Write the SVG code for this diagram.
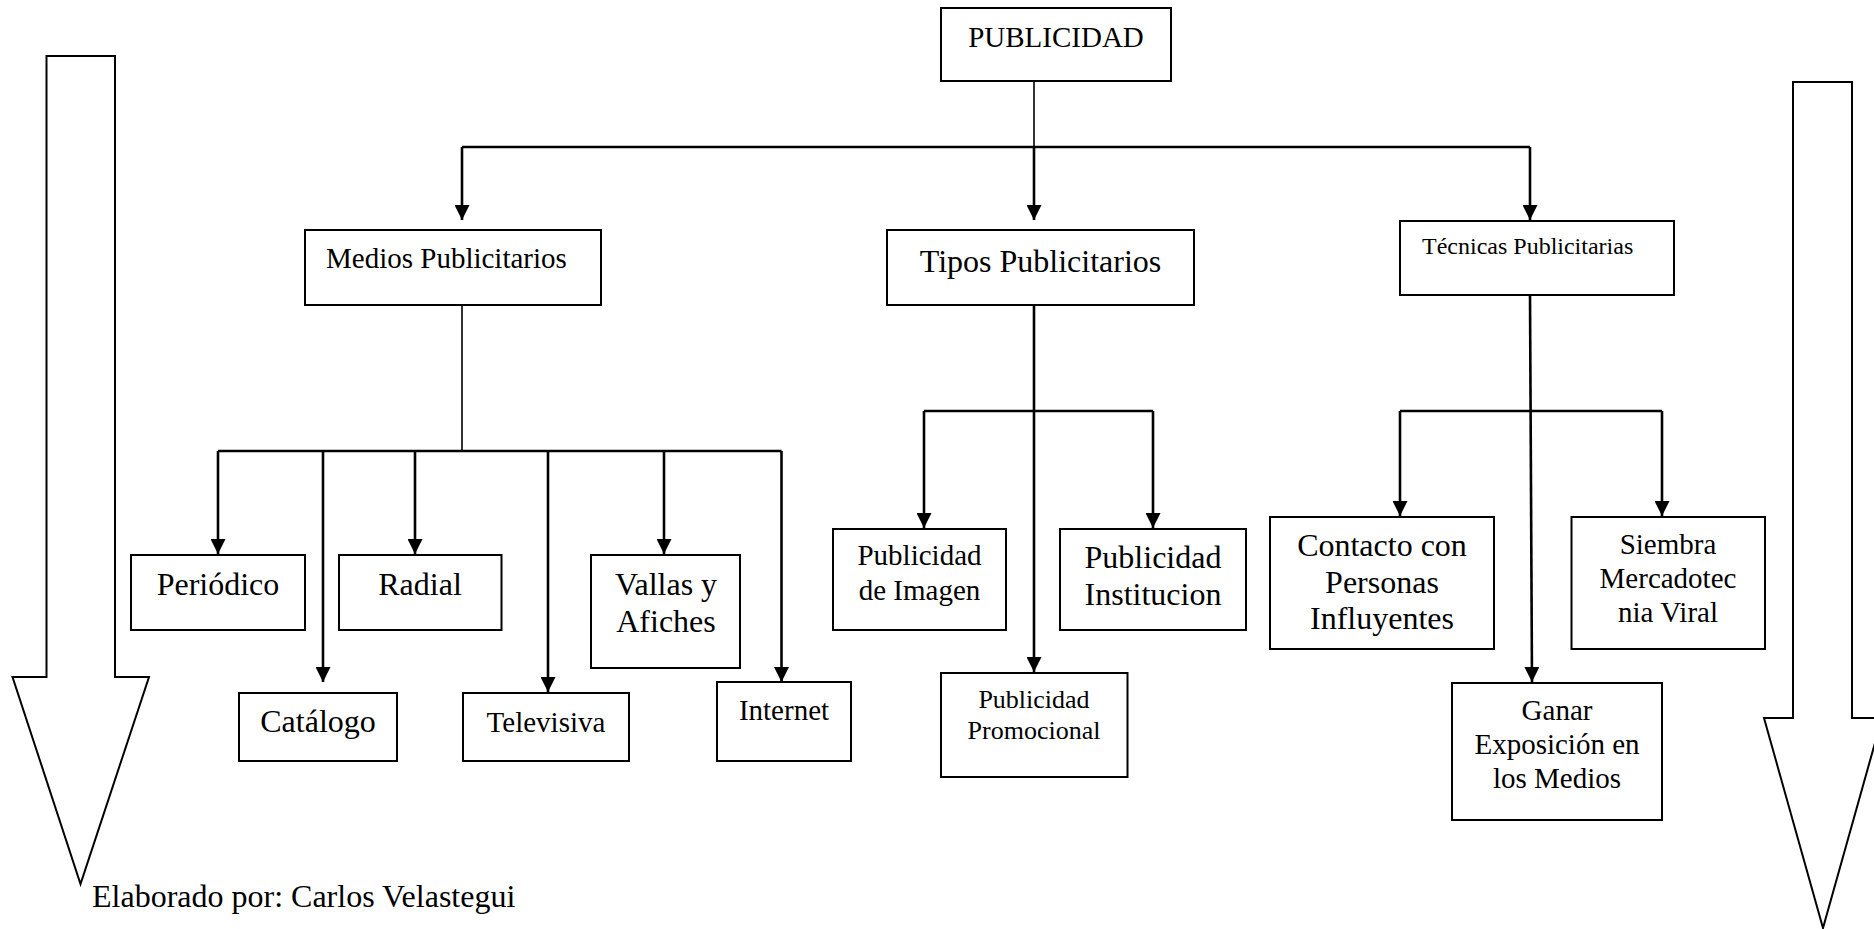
<svg xmlns="http://www.w3.org/2000/svg" width="1874" height="929" viewBox="0 0 1874 929">
<style>
  .box{fill:#fff;stroke:#000;stroke-width:2}
  .t{font-family:"Liberation Serif","Times New Roman",serif;fill:#000}
  .m{text-anchor:middle}
  .stem{stroke:#000;stroke-width:1.6;fill:none}
  .bus{stroke:#000;stroke-width:2.6;fill:none}
  .arr{stroke:#000;stroke-width:2.6;fill:none;marker-end:url(#ah)}
  .big{fill:#fff;stroke:#000;stroke-width:2;stroke-linejoin:miter}
</style>
<defs>
  <marker id="ah" viewBox="0 0 15 15" refX="15" refY="7.5" markerWidth="15" markerHeight="15" markerUnits="userSpaceOnUse" orient="auto">
    <path d="M0,0 L15,7.5 L0,15 z" fill="#000"/>
  </marker>
</defs>
<rect width="1874" height="929" fill="#fff"/>

<g id="arrow-left"><polygon class="big" points="46.5,56 115,56 115,677 149,677 80.5,884 12.5,677 46.5,677"/></g>
<g id="arrow-right"><polygon class="big" points="1793,82 1852,82 1852,718 1882,718 1823,928 1764,718 1793,718"/></g>

<g id="connectors">
  <line class="stem" x1="1034" y1="81" x2="1034" y2="147"/>
  <line class="bus" x1="462" y1="147" x2="1530" y2="147"/>
  <line class="arr" x1="462" y1="147" x2="462" y2="220"/>
  <line class="arr" x1="1034" y1="147" x2="1034" y2="220"/>
  <line class="arr" x1="1530" y1="147" x2="1530" y2="220"/>

  <line class="stem" x1="462" y1="305" x2="462" y2="451"/>
  <line class="bus" x1="218" y1="451" x2="781.5" y2="451"/>
  <line class="arr" x1="218" y1="451" x2="218" y2="554"/>
  <line class="arr" x1="323" y1="451" x2="323" y2="682"/>
  <line class="arr" x1="415" y1="451" x2="415" y2="554"/>
  <line class="arr" x1="548" y1="451" x2="548" y2="692"/>
  <line class="arr" x1="664" y1="451" x2="664" y2="554"/>
  <line class="arr" x1="781.5" y1="451" x2="781.5" y2="682"/>

  <line class="bus" x1="924" y1="411" x2="1153" y2="411"/>
  <line class="arr" x1="1034" y1="305" x2="1034" y2="672"/>
  <line class="arr" x1="924" y1="411" x2="924" y2="528"/>
  <line class="arr" x1="1153" y1="411" x2="1153" y2="528"/>

  <line class="bus" x1="1400" y1="411" x2="1662" y2="411"/>
  <line class="arr" x1="1530" y1="295" x2="1532" y2="682"/>
  <line class="arr" x1="1400" y1="411" x2="1400" y2="516"/>
  <line class="arr" x1="1662" y1="411" x2="1662" y2="516"/>
</g>

<g id="publicidad"><rect class="box" x="941" y="8" width="230" height="73"/><text class="t m" x="1056" y="47" font-size="29">PUBLICIDAD</text></g>

<g id="medios"><rect class="box" x="305" y="230" width="296" height="75"/><text class="t" x="326" y="268" font-size="29">Medios Publicitarios</text></g>
<g id="tipos"><rect class="box" x="887" y="230" width="307" height="75"/><text class="t m" x="1040.5" y="272" font-size="32">Tipos Publicitarios</text></g>
<g id="tecnicas"><rect class="box" x="1400" y="221" width="274" height="74"/><text class="t" x="1422" y="254" font-size="24">Técnicas Publicitarias</text></g>

<g id="periodico"><rect class="box" x="131" y="555" width="174" height="75"/><text class="t m" x="218" y="595" font-size="32">Periódico</text></g>
<g id="radial"><rect class="box" x="339" y="555" width="162.5" height="75"/><text class="t m" x="420" y="595" font-size="32">Radial</text></g>
<g id="vallas"><rect class="box" x="591" y="555" width="149" height="113"/><text class="t m" x="666" y="595" font-size="32">Vallas y</text><text class="t m" x="666" y="632" font-size="32">Afiches</text></g>
<g id="catalogo"><rect class="box" x="239" y="693" width="158" height="68"/><text class="t m" x="318" y="732" font-size="32">Catálogo</text></g>
<g id="televisiva"><rect class="box" x="463" y="693" width="166" height="68"/><text class="t m" x="546" y="732" font-size="29">Televisiva</text></g>
<g id="internet"><rect class="box" x="717" y="682" width="134" height="79"/><text class="t m" x="784" y="720" font-size="29">Internet</text></g>

<g id="imagen"><rect class="box" x="833" y="529" width="173" height="101"/><text class="t m" x="919.5" y="565" font-size="29">Publicidad</text><text class="t m" x="919.5" y="600" font-size="29">de Imagen</text></g>
<g id="institucion"><rect class="box" x="1060" y="529" width="186" height="101"/><text class="t m" x="1153" y="568" font-size="32">Publicidad</text><text class="t m" x="1153" y="605" font-size="32">Institucion</text></g>
<g id="promocional"><rect class="box" x="941" y="673" width="186.5" height="104"/><text class="t m" x="1034" y="708" font-size="26">Publicidad</text><text class="t m" x="1034" y="739" font-size="26">Promocional</text></g>

<g id="contacto"><rect class="box" x="1270" y="517" width="224" height="132"/><text class="t m" x="1382" y="556" font-size="32">Contacto con</text><text class="t m" x="1382" y="593" font-size="32">Personas</text><text class="t m" x="1382" y="629" font-size="32">Influyentes</text></g>
<g id="siembra"><rect class="box" x="1571.5" y="517" width="193.5" height="132"/><text class="t m" x="1668" y="554" font-size="29">Siembra</text><text class="t m" x="1668" y="588" font-size="29">Mercadotec</text><text class="t m" x="1668" y="622" font-size="29">nia Viral</text></g>
<g id="ganar"><rect class="box" x="1452" y="683" width="210" height="137"/><text class="t m" x="1557" y="720" font-size="29">Ganar</text><text class="t m" x="1557" y="754" font-size="29">Exposición en</text><text class="t m" x="1557" y="788" font-size="29">los Medios</text></g>

<text class="t" x="92" y="907" font-size="32">Elaborado por: Carlos Velastegui</text>
</svg>
